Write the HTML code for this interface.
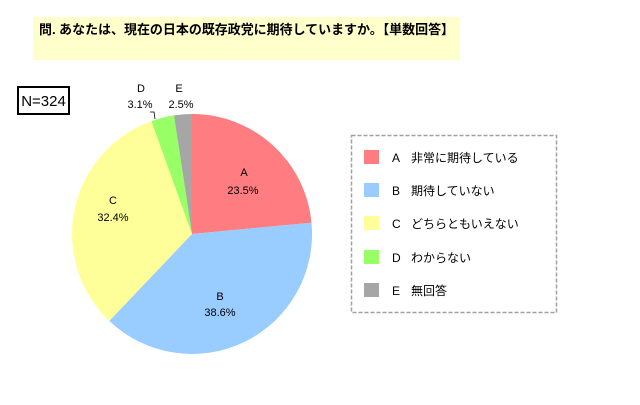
<!DOCTYPE html>
<html><head><meta charset="utf-8"><style>
body{margin:0;background:#fff;}
svg text{font-family:"Liberation Sans","Noto Sans CJK JP",sans-serif;}
</style></head><body>
<svg width="640" height="400" xmlns="http://www.w3.org/2000/svg">
<rect width="640" height="400" fill="#fff"/>
<rect x="33" y="17" width="427" height="43" fill="#ffffcc"/>
<text x="39" y="34" font-size="13" font-weight="bold" fill="#000" textLength="415" lengthAdjust="spacingAndGlyphs">問. あなたは、現在の日本の既存政党に期待していますか。【単数回答】</text>
<rect x="18" y="87" width="51" height="27" fill="#fff" stroke="#000" stroke-width="2"/>
<text x="43.5" y="106" font-size="15" text-anchor="middle">N=324</text>
<g transform="translate(192,234)">
<path d="M0,0 L0,-120 A120,120 0 0 1 119.5,-11.3 Z" fill="#ff7c80"/>
<path d="M0,0 L119.5,-11.3 A120,120 0 0 1 -82.7,86.9 Z" fill="#99ccff"/>
<path d="M0,0 L-82.7,86.9 A120,120 0 0 1 -40.6,-112.9 Z" fill="#ffff99"/>
<path d="M0,0 L-40.6,-112.9 A120,120 0 0 1 -18,-118.6 Z" fill="#99ff66"/>
<path d="M0,0 L-18,-118.6 A120,120 0 0 1 0,-120 Z" fill="#a6a6a6"/>
</g>
<g font-size="11" text-anchor="middle" fill="#000">
<text x="244" y="176">A</text><text x="243" y="194">23.5%</text>
<text x="220" y="300">B</text><text x="220" y="316">38.6%</text>
<text x="113" y="204">C</text><text x="113" y="221">32.4%</text>
<text x="141" y="92">D</text><text x="140" y="108">3.1%</text>
<text x="179" y="92">E</text><text x="181" y="108">2.5%</text>
</g>
<path d="M150,112 L154,112 L155,119" fill="none" stroke="#000" stroke-width="0.8"/>
<rect x="351.5" y="135.5" width="205" height="177" fill="#fff" stroke="#a0a0a0" stroke-width="1.5" stroke-dasharray="4,2"/>
<g font-size="12" fill="#000">
<rect x="364" y="150" width="15" height="14" fill="#ff7c80"/><text x="392" y="162">A</text><text x="411" y="162">非常に期待している</text>
<rect x="364" y="183" width="15" height="14" fill="#99ccff"/><text x="392" y="195">B</text><text x="411" y="195">期待していない</text>
<rect x="364" y="216" width="15" height="14" fill="#ffff99"/><text x="392" y="228">C</text><text x="411" y="228">どちらともいえない</text>
<rect x="364" y="250" width="15" height="14" fill="#99ff66"/><text x="392" y="262">D</text><text x="411" y="262">わからない</text>
<rect x="364" y="283" width="15" height="14" fill="#a6a6a6"/><text x="392" y="295">E</text><text x="411" y="295">無回答</text>
</g>
</svg>
</body></html>
